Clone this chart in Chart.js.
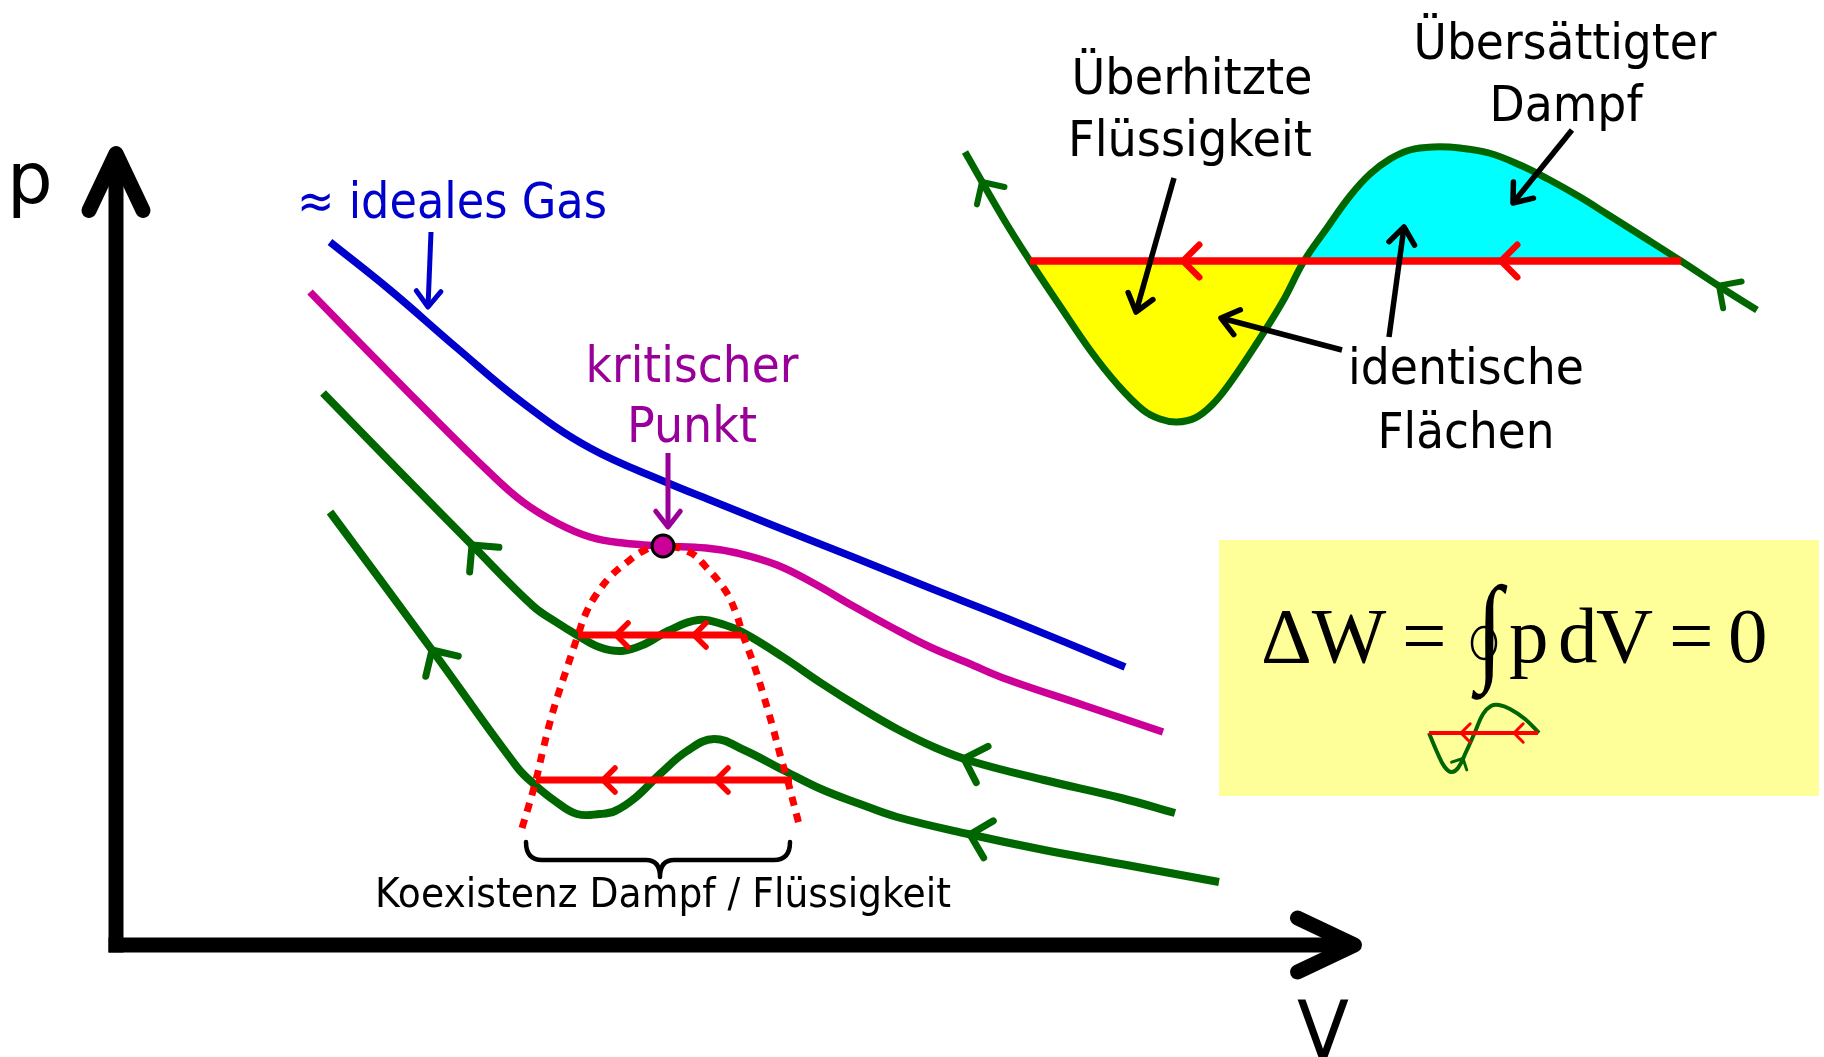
<!DOCTYPE html>
<html>
<head>
<meta charset="utf-8">
<script src="https://cdn.jsdelivr.net/npm/chart.js@4.4.1/dist/chart.umd.min.js"></script>
<style>
  html, body { margin: 0; padding: 0; background: #fff; overflow: hidden; }
  canvas { display: block; }
</style>
</head>
<body>
<canvas id="pv" width="1824" height="1057"></canvas>
<script>
// Real-gas isotherms in the p–V plane (arbitrary units, origin at the axes' corner)

// ≈ ideal gas (high temperature)
const idealV = [2.14, 2.74, 3.41, 4.07, 4.74, 5.52, 5.94, 6.61, 7.37, 8.14, 8.90, 10.09];
const idealP = [7.03, 6.55, 5.97, 5.42, 4.97, 4.62, 4.45, 4.18, 3.88, 3.57, 3.27, 2.78];

// critical isotherm
const critV = [1.94, 2.41, 3.07, 3.74, 4.07, 4.41, 4.74, 5.07, 5.47, 5.90, 6.21, 6.61, 6.99, 7.37, 7.75, 8.14, 8.52, 8.90, 9.67, 10.47];
const critP = [6.53, 6.05, 5.38, 4.72, 4.43, 4.22, 4.08, 4.02, 3.99, 3.97, 3.92, 3.80, 3.61, 3.39, 3.18, 2.98, 2.82, 2.66, 2.40, 2.13];

// critical point
const critPointV = [5.47];
const critPointP = [3.99];

// sub-critical isotherm 1
const iso1V = [2.07, 2.87, 3.56, 4.17, 4.40, 4.61, 4.83, 5.06, 5.29, 5.52, 5.82, 6.09, 6.28, 6.67, 7.05, 7.43, 7.81, 8.20, 8.58, 9.28, 10.05, 10.59];
const iso1P = [5.52, 4.70, 4.00, 3.39, 3.23, 3.10, 2.98, 2.94, 3.01, 3.14, 3.25, 3.20, 3.12, 2.88, 2.62, 2.38, 2.16, 1.97, 1.83, 1.65, 1.47, 1.32];

// sub-critical isotherm 2
const iso2V = [2.14, 3.16, 4.01, 4.19, 4.39, 4.61, 4.84, 4.99, 5.19, 5.44, 5.71, 5.98, 6.28, 6.67, 7.05, 7.44, 7.81, 8.52, 9.28, 10.05, 11.03];
const iso2P = [4.33, 2.95, 1.78, 1.60, 1.44, 1.31, 1.31, 1.34, 1.47, 1.71, 1.94, 2.06, 1.95, 1.75, 1.56, 1.41, 1.28, 1.11, 0.95, 0.81, 0.63];

// Maxwell lines (vapour pressure) of both isotherms
const tie1V = [4.62, 6.26];
const tie1P = [3.10, 3.10];
const tie2V = [4.20, 6.76];
const tie2P = [1.65, 1.65];

// coexistence dome
const domeV = [4.06, 4.13, 4.20, 4.27, 4.34, 4.42, 4.52, 4.62, 4.70, 4.80, 4.94, 5.10, 5.29, 5.47, 5.75, 5.90, 6.09, 6.20, 6.27, 6.38, 6.48, 6.57, 6.65, 6.72, 6.78, 6.84];
const domeP = [1.17, 1.40, 1.65, 1.95, 2.23, 2.50, 2.80, 3.10, 3.32, 3.50, 3.68, 3.82, 3.95, 4.00, 3.92, 3.78, 3.55, 3.32, 3.10, 2.80, 2.48, 2.17, 1.87, 1.63, 1.40, 1.17];

// enlarged van der Waals loop with equal areas
const loopV = [8.49, 8.87, 9.14, 9.44, 9.74, 10.01, 10.27, 10.44, 10.61, 10.79, 10.96, 11.14, 11.41, 11.67, 11.88, 12.11, 12.34, 12.54, 12.74, 12.94, 13.17, 13.44, 13.73, 14.04, 14.32, 14.64, 14.91, 15.29, 15.65, 16.09, 16.41];
const loopP = [7.93, 7.27, 6.84, 6.39, 5.95, 5.61, 5.35, 5.26, 5.23, 5.27, 5.40, 5.62, 6.02, 6.44, 6.84, 7.17, 7.49, 7.71, 7.86, 7.95, 7.98, 7.97, 7.92, 7.80, 7.66, 7.48, 7.31, 7.07, 6.84, 6.55, 6.35];
const loopTieV = [9.14, 15.65];
const loopTieP = [6.84, 6.84];
const loopCrossV = 11.88;

// small cycle symbol under the integral
const miniV = [13.13, 13.21, 13.28, 13.35, 13.42, 13.50, 13.59, 13.67, 13.75, 13.83, 13.94, 14.09, 14.23];
const miniP = [2.12, 1.93, 1.79, 1.73, 1.77, 1.93, 2.13, 2.31, 2.39, 2.40, 2.36, 2.26, 2.12];
const miniTieV = [13.13, 14.22];
const miniTieP = [2.12, 2.12];

// ---------------------------------------------------------------------------
const BLUE = '#0000CC', MAGENTA = '#CC0099', PURPLE = '#990099',
      GREEN = '#006600', RED = '#FF0000', YELLOW = '#FFFF00', CYAN = '#00FFFF',
      NOTE = '#FFFF99';
const SANS = '"DejaVu Sans", Verdana, sans-serif';
const SERIF = '"Liberation Serif", "Times New Roman", serif';

const pts = (V, P) => V.map((v, i) => ({x: v, y: P[i]}));
const curve = (label, V, P, color, width, order, extra) => Object.assign({
  label, data: pts(V, P), borderColor: color, borderWidth: width,
  pointRadius: 0, fill: false, tension: 0.4,
  borderJoinStyle: 'round', order
}, extra || {});
const lobe = (label, lo, hi, color) => ({
  label, data: pts(loopV, loopP).filter(d => d.x >= lo && d.x <= hi),
  borderWidth: 0, borderColor: 'rgba(0,0,0,0)', backgroundColor: color,
  fill: {value: loopTieP[0]}, pointRadius: 0, tension: 0.4, order: 9
});

const datasets = [
  {label: 'crit-point', data: pts(critPointV, critPointP), showLine: false,
   pointRadius: 11, pointBackgroundColor: MAGENTA, pointBorderColor: '#000',
   pointBorderWidth: 3, order: 0},
  curve('tie1', tie1V, tie1P, RED, 7, 1, {tension: 0}),
  curve('tie2', tie2V, tie2P, RED, 7, 1, {tension: 0}),
  curve('loopTie', loopTieV, loopTieP, RED, 7.5, 1, {tension: 0}),
  curve('miniTie', miniTieV, miniTieP, RED, 4, 1, {tension: 0}),
  curve('dome', domeV, domeP, RED, 7, 2, {borderDash: [9, 8]}),
  curve('ideal', idealV, idealP, BLUE, 7.5, 4),
  curve('crit', critV, critP, MAGENTA, 7.5, 4),
  curve('iso1', iso1V, iso1P, GREEN, 8, 4),
  curve('iso2', iso2V, iso2P, GREEN, 8, 4),
  curve('loop', loopV, loopP, GREEN, 7, 4),
  curve('mini', miniV, miniP, GREEN, 4, 4),
  lobe('liquid-lobe', loopTieV[0], loopCrossV, YELLOW),
  lobe('vapour-lobe', loopCrossV, loopTieV[1], CYAN)
];

// direction chevrons sitting on the curves
const marks = [
  {series: 'iso1', at: [3.56, 8.48], dir: -1, len: 27, width: 7, color: GREEN},
  {series: 'iso2', at: [3.16, 8.54], dir: -1, len: 27, width: 7, color: GREEN},
  {series: 'tie1', at: [5.00, 5.78], dir: -1, len: 17, width: 5.5, color: RED},
  {series: 'tie2', at: [4.87, 6.00], dir: -1, len: 17, width: 5.5, color: RED},
  {series: 'loop', at: [8.66, 16.03], dir: -1, len: 23, width: 6, color: GREEN},
  {series: 'loopTie', at: [10.67, 13.85], dir: -1, len: 23, width: 6.5, color: RED},
  {series: 'mini', at: [13.47, 13.69], dir: 1, len: 12, width: 3, color: GREEN},
  {series: 'miniTie', at: [13.45, 13.98], dir: -1, len: 13, width: 3, color: RED}
];

// pointer arrows of the annotations
const pointers = [
  {from: [3.15, 7.13], to: [3.12, 6.38], color: BLUE, width: 5, head: 20},
  {from: [5.52, 4.92], to: [5.52, 4.18], color: PURPLE, width: 5, head: 20},
  {from: [10.58, 7.67], to: [10.20, 6.33], color: '#000', width: 5.5, head: 21},
  {from: [14.56, 8.15], to: [13.97, 7.42], color: '#000', width: 5.5, head: 21},
  {from: [12.26, 5.95], to: [11.05, 6.27], color: '#000', width: 5.5, head: 21},
  {from: [12.73, 6.08], to: [12.88, 7.18], color: '#000', width: 5.5, head: 21}
];

const labels = [
  {text: 'p', v: -1.09, p: 7.42, size: 72, align: 'left'},
  {text: 'V', v: 12.07, p: -1.13, size: 80, maxWidth: 52},
  {text: '≈ ideales Gas', v: 1.81, p: 7.27, size: 50, align: 'left', color: BLUE, maxWidth: 310},
  {text: 'kritischer', v: 5.76, p: 5.63, size: 50, color: PURPLE, maxWidth: 213},
  {text: 'Punkt', v: 5.76, p: 5.03, size: 50, color: PURPLE, maxWidth: 130},
  {text: 'Koexistenz Dampf / Flüssigkeit', v: 5.47, p: 0.38, size: 40, maxWidth: 576},
  {text: 'Überhitzte', v: 10.76, p: 8.51, size: 50, maxWidth: 241},
  {text: 'Flüssigkeit', v: 10.74, p: 7.89, size: 50, maxWidth: 244},
  {text: 'Übersättigter', v: 14.49, p: 8.86, size: 50, maxWidth: 303},
  {text: 'Dampf', v: 14.50, p: 8.24, size: 50, maxWidth: 153},
  {text: 'identische', v: 13.50, p: 5.61, size: 50, maxWidth: 236},
  {text: 'Flächen', v: 13.50, p: 4.97, size: 50, maxWidth: 177}
];

// ΔW = ∮ p dV = 0, set piece by piece (left ink edge in V units)
const formulaBox = {v1: 11.03, v2: 17.03, p1: 4.05, p2: 1.49};
const formulaBaseline = 2.83;
const formula = [
  {text: 'ΔW', left: 11.48}, {text: '=', left: 12.89},
  {text: 'p', left: 13.94}, {text: 'd', left: 14.44}, {text: 'V', left: 14.80},
  {text: '=', left: 15.56}, {text: '0', left: 16.15}
];
const integralBox = {v1: 13.55, v2: 13.92, p1: 3.62, p2: 2.45};
const integralRing = {v: 13.68, p: 3.02, rv: 0.12, rp: 0.16};

const axisTopP = 7.915, axisEndV = 12.385;

function chevron(ctx, tip, dx, dy, len, ang) {
  // dx,dy: unit vector the chevron points to
  const bx = -dx, by = -dy;
  const c = Math.cos(ang), s = Math.sin(ang);
  const a1 = {x: tip.x + len * (bx * c - by * s), y: tip.y + len * (bx * s + by * c)};
  const a2 = {x: tip.x + len * (bx * c + by * s), y: tip.y + len * (-bx * s + by * c)};
  ctx.beginPath();
  ctx.moveTo(a1.x, a1.y);
  ctx.lineTo(tip.x, tip.y);
  ctx.lineTo(a2.x, a2.y);
  ctx.stroke();
}

const decor = {
  id: 'decor',
  beforeDatasetsDraw(chart) {
    const {ctx, scales: {x, y}} = chart;
    ctx.save();
    ctx.fillStyle = NOTE;
    const l = x.getPixelForValue(formulaBox.v1), r = x.getPixelForValue(formulaBox.v2);
    const t = y.getPixelForValue(formulaBox.p1), b = y.getPixelForValue(formulaBox.p2);
    ctx.fillRect(l, t, r - l, b - t);
    ctx.restore();
  },
  afterDatasetsDraw(chart) {
    const {ctx, scales: {x, y}} = chart;
    const X = v => x.getPixelForValue(v), Y = p => y.getPixelForValue(p);
    const byLabel = name => chart.data.datasets.findIndex(d => d.label === name);

    ctx.save();
    ctx.lineCap = 'round';
    ctx.lineJoin = 'round';

    // chevrons on curves
    for (const m of marks) {
      const line = chart.getDatasetMeta(byLabel(m.series)).dataset;
      ctx.strokeStyle = m.color;
      ctx.lineWidth = m.width;
      for (const v of m.at) {
        const px = X(v);
        const tip = line.interpolate({x: px}, 'x');
        const lo = line.interpolate({x: px - 2}, 'x');
        const hi = line.interpolate({x: px + 2}, 'x');
        if (!tip || !lo || !hi || Array.isArray(tip)) continue;
        const dx = (hi.x - lo.x) * m.dir, dy = (hi.y - lo.y) * m.dir;
        const n = Math.hypot(dx, dy) || 1;
        chevron(ctx, {x: tip.x, y: tip.y}, dx / n, dy / n, m.len, Math.PI / 4);
      }
    }

    // annotation pointers
    for (const a of pointers) {
      const f = {x: X(a.from[0]), y: Y(a.from[1])}, t = {x: X(a.to[0]), y: Y(a.to[1])};
      ctx.strokeStyle = a.color;
      ctx.lineWidth = a.width;
      ctx.lineCap = 'butt';
      ctx.beginPath(); ctx.moveTo(f.x, f.y); ctx.lineTo(t.x, t.y); ctx.stroke();
      ctx.lineCap = 'round';
      const n = Math.hypot(t.x - f.x, t.y - f.y);
      chevron(ctx, t, (t.x - f.x) / n, (t.y - f.y) / n, a.head, 0.66);
    }

    // axes with arrow heads
    const ox = X(0), oy = Y(0), top = Y(axisTopP), end = X(axisEndV);
    ctx.strokeStyle = '#000';
    ctx.lineWidth = 15;
    ctx.lineCap = 'butt';
    ctx.beginPath(); ctx.moveTo(ox, oy + 7.5); ctx.lineTo(ox, top + 6); ctx.stroke();
    ctx.beginPath(); ctx.moveTo(ox - 7.5, oy); ctx.lineTo(end - 6, oy); ctx.stroke();
    ctx.lineCap = 'round';
    ctx.beginPath(); ctx.moveTo(ox - 27, top + 57); ctx.lineTo(ox, top); ctx.lineTo(ox + 27, top + 57); ctx.stroke();
    ctx.beginPath(); ctx.moveTo(end - 57, oy - 27); ctx.lineTo(end, oy); ctx.lineTo(end - 57, oy + 27); ctx.stroke();

    // brace under the coexistence region
    const bl = X(4.10), br = X(6.74), bm = X(5.44);
    const bt = Y(1.03), bb = Y(0.85), bp = Y(0.68);
    ctx.lineWidth = 4.5;
    ctx.beginPath();
    ctx.moveTo(bl, bt);
    ctx.quadraticCurveTo(bl, bb, bl + 16, bb);
    ctx.lineTo(bm - 14, bb);
    ctx.quadraticCurveTo(bm, bb, bm, bp);
    ctx.quadraticCurveTo(bm, bb, bm + 14, bb);
    ctx.lineTo(br - 16, bb);
    ctx.quadraticCurveTo(br, bb, br, bt);
    ctx.stroke();

    // text labels
    ctx.textBaseline = 'alphabetic';
    for (const t of labels) {
      ctx.font = `${t.size}px ${SANS}`;
      ctx.fillStyle = t.color || '#000';
      ctx.textAlign = t.align || 'center';
      if (t.maxWidth) ctx.fillText(t.text, X(t.v), Y(t.p), t.maxWidth);
      else ctx.fillText(t.text, X(t.v), Y(t.p));
    }

    // formula
    ctx.textAlign = 'left';
    ctx.fillStyle = '#000';
    ctx.font = `79px ${SERIF}`;
    for (const f of formula) {
      const m = ctx.measureText(f.text);
      ctx.fillText(f.text, X(f.left) + m.actualBoundingBoxLeft, Y(formulaBaseline));
    }
    // contour integral: stretched ∫ with a small ring
    ctx.font = `100px ${SERIF}`;
    const im = ctx.measureText('∫');
    const gw = im.actualBoundingBoxLeft + im.actualBoundingBoxRight;
    const gh = im.actualBoundingBoxAscent + im.actualBoundingBoxDescent;
    const ix1 = X(integralBox.v1), ix2 = X(integralBox.v2);
    const iy1 = Y(integralBox.p1), iy2 = Y(integralBox.p2);
    ctx.save();
    ctx.translate(ix1, iy1);
    ctx.scale((ix2 - ix1) / gw, (iy2 - iy1) / gh);
    ctx.fillText('∫', im.actualBoundingBoxLeft, im.actualBoundingBoxAscent);
    ctx.restore();
    const rcx = X(integralRing.v), rcy = Y(integralRing.p);
    const rrx = X(integralRing.v + integralRing.rv) - rcx, rry = rcy - Y(integralRing.p + integralRing.rp);
    ctx.strokeStyle = '#000';
    ctx.lineWidth = 2.5;
    ctx.beginPath();
    ctx.ellipse(rcx, rcy, rrx, rry, 0, 0, Math.PI * 2);
    ctx.stroke();

    ctx.restore();
  }
};

new Chart(document.getElementById('pv'), {
  type: 'line',
  data: {datasets},
  options: {
    responsive: false,
    animation: false,
    events: [],
    layout: {padding: 0, autoPadding: false},
    plugins: {legend: {display: false}, tooltip: {enabled: false}},
    scales: {
      x: {type: 'linear', min: -1.16, max: 17.08, display: false},
      y: {type: 'linear', min: -1.12, max: 9.45, display: false}
    }
  },
  plugins: [decor]
});
</script>
</body>
</html>
